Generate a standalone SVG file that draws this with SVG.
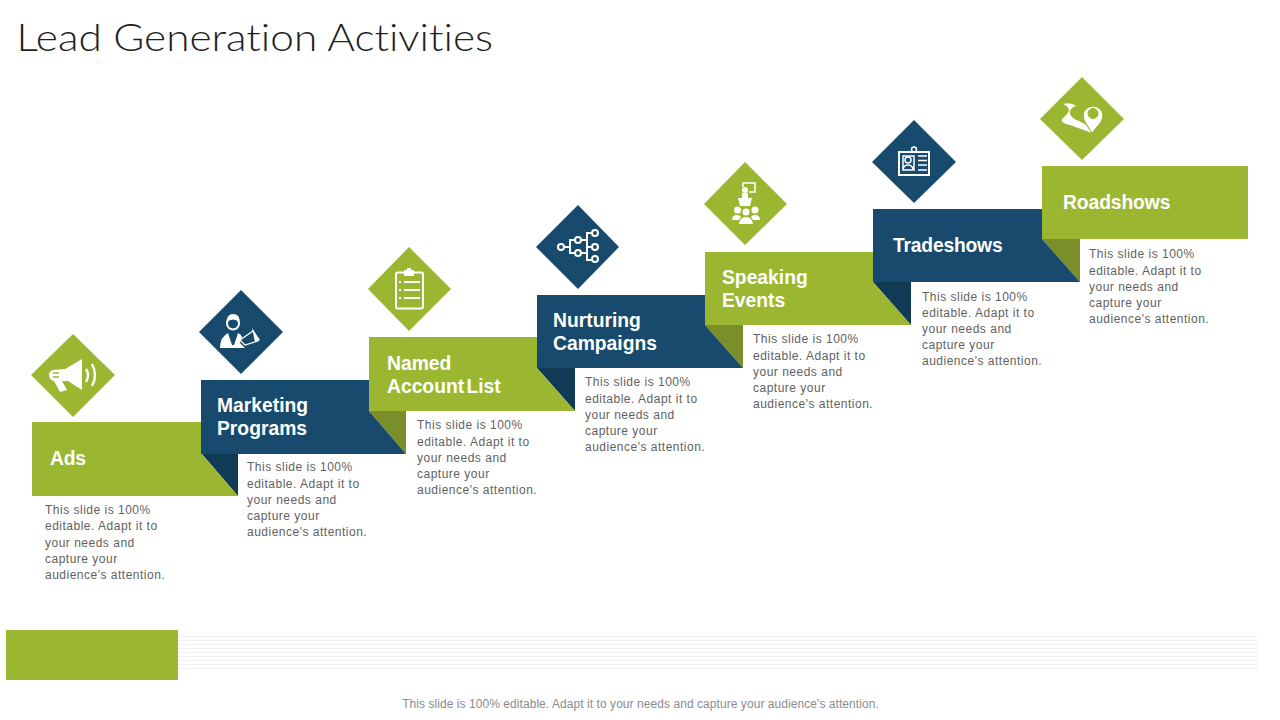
<svg xmlns="http://www.w3.org/2000/svg" width="1280" height="720" viewBox="0 0 1280 720">
<style>
.g{fill:#9bb731}.b{fill:#174a6c}.fg{fill:#7a8f2a}.fb{fill:#113a55}
.h{font:bold 19.3px "Liberation Sans",Arial,sans-serif;fill:#fff}
.t{font:12px "Liberation Sans",Arial,sans-serif;fill:#5f5f5f;letter-spacing:.5px}
.i{fill:#fff}.s{fill:none;stroke:#fff;stroke-width:2}
.r{stroke:#f0f0f2;stroke-width:1.2}
</style>
<rect width="1280" height="720" fill="#fff"/>
<text id="title" x="16.500" y="51" font-family="Lato,'Liberation Sans',sans-serif" font-weight="300" font-size="38" fill="#1f1f1f" textLength="476.500" lengthAdjust="spacingAndGlyphs" style="font-variant-ligatures:none">Lead Generation Activities</text>
<g id="connectors">
<polygon class="fb" points="201,453 238,453 238,496"/>
<polygon class="fg" points="369,411 406,411 406,454"/>
<polygon class="fb" points="537,368 575,368 575,411"/>
<polygon class="fg" points="705,325 743,325 743,368"/>
<polygon class="fb" points="873,282 911,282 911,325"/>
<polygon class="fg" points="1042,239 1080,239 1080,282"/>
</g>
<g id="step-ads">
<polygon class="g" points="32,422 201,422 201,453 238,496 32,496"/>
<text class="h" x="50" y="465" style="letter-spacing:-.2px">Ads</text>
<text class="t"><tspan x="45" y="514">This slide is 100%</tspan><tspan x="45" y="530">editable. Adapt it to</tspan><tspan x="45" y="547">your needs and</tspan><tspan x="45" y="563">capture your</tspan><tspan x="45" y="579">audience's attention.</tspan></text>
<polygon class="g" points="73,334 115,375 73,417 31,375"/>
<g id="icon-ads">
<path class="i" d="M53,370 L65,369 L82,359 V390 L68,381 L62,381 L67,390 L60,392 L54,381 Q49,380 49,375 Q49,371 53,370Z"/>
<path d="M53,373h6M53,377h6" stroke="#9bb731" stroke-width="1.300" fill="none"/>
<path class="s" style="stroke-width:2.400" d="M86,369 Q90,375 86,382M92,364 Q98,375 92,386"/>
</g>
</g>
<g id="step-marketing">
<polygon class="b" points="201,380 369,380 369,411 406,454 201,454"/>
<text class="h"><tspan x="217" y="412">Marketing</tspan><tspan x="217" y="435">Programs</tspan></text>
<text class="t"><tspan x="247" y="471">This slide is 100%</tspan><tspan x="247" y="488">editable. Adapt it to</tspan><tspan x="247" y="504">your needs and</tspan><tspan x="247" y="520">capture your</tspan><tspan x="247" y="536">audience's attention.</tspan></text>
<polygon class="b" points="241,290 283,332 241,374 199,332"/>
<g id="icon-marketing">
<circle class="s" cx="233" cy="323.500" r="6"/>
<path class="i" d="M226.500,322 Q227,314 233,314 Q240,314 239.500,322 Q233,317 226.500,322Z"/>
<path class="i" d="M220,348 Q220,337 228,333 L232,345 L234,345 L238,333 Q241,334 242,337 L240,343 L245,348Z"/>
<polygon class="s" style="stroke-width:1.200" points="240,340 253,331 258,341 245,345"/>
<polygon class="i" points="252,328 260,340 255,342"/>
</g>
</g>
<g id="step-named">
<polygon class="g" points="369,337 537,337 537,368 575,411 369,411"/>
<text class="h" style="word-spacing:-3px"><tspan x="387" y="370">Named</tspan><tspan x="387" y="393">Account List</tspan></text>
<text class="t"><tspan x="417" y="429">This slide is 100%</tspan><tspan x="417" y="446">editable. Adapt it to</tspan><tspan x="417" y="462">your needs and</tspan><tspan x="417" y="478">capture your</tspan><tspan x="417" y="494">audience's attention.</tspan></text>
<polygon class="g" points="409,247 451,289 409,331 368,289"/>
<g id="icon-named">
<rect class="s" x="396" y="272.500" width="27" height="36" rx="2"/>
<rect class="i" x="404" y="270" width="10" height="6"/><rect class="i" x="407" y="268" width="4" height="3"/>
<path class="s" d="M404,282H420M404,290H420M404,298H420"/>
<path class="s" d="M399,282h2M399,290h2M399,298h2"/>
</g>
</g>
<g id="step-nurturing">
<polygon class="b" points="537,295 705,295 705,325 743,368 537,368"/>
<text class="h"><tspan x="553" y="327">Nurturing</tspan><tspan x="553" y="350">Campaigns</tspan></text>
<text class="t"><tspan x="585" y="386">This slide is 100%</tspan><tspan x="585" y="403">editable. Adapt it to</tspan><tspan x="585" y="419">your needs and</tspan><tspan x="585" y="435">capture your</tspan><tspan x="585" y="451">audience's attention.</tspan></text>
<polygon class="b" points="578,205 619,247 578,289 536,247"/>
<g id="icon-nurturing" class="s">
<circle cx="561" cy="247" r="3"/><circle cx="578" cy="240" r="3"/><circle cx="578" cy="253" r="3"/><circle cx="595" cy="233" r="3"/><circle cx="595" cy="247" r="3"/><circle cx="595" cy="259" r="3"/>
<path d="M564,247h6M575,240h-5v13h5M581,240h6M581,253h6M592,233h-5v27h5M587,247h5"/>
</g>
</g>
<g id="step-speaking">
<polygon class="g" points="705,252 873,252 873,282 911,325 705,325"/>
<text class="h"><tspan x="722" y="284">Speaking</tspan><tspan x="722" y="307">Events</tspan></text>
<text class="t"><tspan x="753" y="343">This slide is 100%</tspan><tspan x="753" y="360">editable. Adapt it to</tspan><tspan x="753" y="376">your needs and</tspan><tspan x="753" y="392">capture your</tspan><tspan x="753" y="408">audience's attention.</tspan></text>
<polygon class="g" points="745,162 787,204 745,245 704,204"/>
<g id="icon-speaking">
<path class="s" style="stroke-width:1.500" d="M743,187v-4h12v9h-6"/>
<circle class="i" cx="745" cy="190" r="3"/>
<polygon class="i" points="738,198 752,198 750,206 740,206"/><rect class="i" x="742" y="193" width="6" height="5"/>
<circle class="i" cx="737.500" cy="210" r="3.500"/><circle class="i" cx="746" cy="212" r="3.500"/><circle class="i" cx="755" cy="210" r="3.500"/>
<path class="i" d="M732,220Q732,215 737,215Q740,215 741,217L739,220ZM739,224Q740,217 746,217Q752,217 753,224ZM751,217Q752,215 755,215Q760,215 760,220H753Z"/>
</g>
</g>
<g id="step-tradeshows">
<polygon class="b" points="873,209 1042,209 1042,239 1080,282 873,282"/>
<text class="h" x="893" y="252" style="letter-spacing:-.2px">Tradeshows</text>
<text class="t"><tspan x="922" y="301">This slide is 100%</tspan><tspan x="922" y="317">editable. Adapt it to</tspan><tspan x="922" y="333">your needs and</tspan><tspan x="922" y="349">capture your</tspan><tspan x="922" y="365">audience's attention.</tspan></text>
<polygon class="b" points="914,120 956,162 914,203 872,162"/>
<g id="icon-tradeshows">
<rect class="s" x="899" y="152" width="30" height="23"/>
<circle class="s" style="stroke-width:1.500" cx="914" cy="149.500" r="2.500"/>
<circle class="s" style="stroke-width:1.500" cx="908" cy="160" r="3"/>
<path class="s" style="stroke-width:1.500" d="M903,169Q904,165 908,165Q912,165 913,169M903,156h11v14h-11z"/>
<path class="s" style="stroke-width:1.500" d="M918,156h9M918,160.500h9M918,165h9M918,170h9"/>
</g>
</g>
<g id="step-roadshows">
<rect class="g" x="1042" y="166" width="206" height="73"/>
<text class="h" x="1063" y="209" style="letter-spacing:-.1px">Roadshows</text>
<text class="t"><tspan x="1089" y="258">This slide is 100%</tspan><tspan x="1089" y="275">editable. Adapt it to</tspan><tspan x="1089" y="291">your needs and</tspan><tspan x="1089" y="307">capture your</tspan><tspan x="1089" y="323">audience's attention.</tspan></text>
<polygon class="g" points="1082,77 1124,119 1082,160 1040,119"/>
<g id="icon-roadshows">
<path class="i" d="M1063,104Q1071,102 1076,106Q1069,108 1070,114Q1072,119 1079,121L1086,125L1092,133L1070,125Q1060,123 1062,119Q1069,113 1069,110Q1068,106 1063,104Z"/>
<path class="i" stroke="#9bb731" fill-rule="evenodd" d="M1092,133L1085,122Q1081,114 1086,109Q1093,103 1100,109Q1105,114 1101,122ZM1093,108.500a5,5 0 1 0 .01,0Z"/>
</g>
</g>
<g id="footer">
<rect class="g" x="6" y="630" width="172" height="50"/>
<path class="r" d="M178,636.500H1258M178,640.500H1258M178,644.500H1258M178,648.500H1258M178,652.500H1258M178,656.500H1258M178,660.500H1258M178,664.500H1258M178,668.500H1258"/>
<text x="640.500" y="708" text-anchor="middle" font-family="'Liberation Sans',Arial,sans-serif" font-size="12" fill="#8c8c8c" style="letter-spacing:.06px">This slide is 100% editable. Adapt it to your needs and capture your audience's attention.</text>
</g>
</svg>
